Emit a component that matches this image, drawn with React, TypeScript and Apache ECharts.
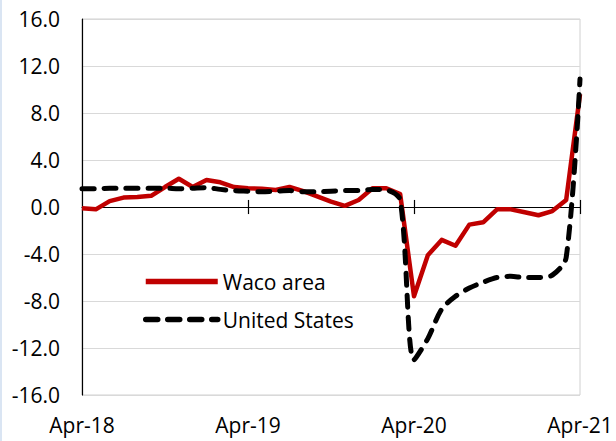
import React, { useEffect, useRef } from "react";
import * as echarts from "echarts";

const months = [
  "Apr-18", "May-18", "Jun-18", "Jul-18", "Aug-18", "Sep-18", "Oct-18", "Nov-18", "Dec-18",
  "Jan-19", "Feb-19", "Mar-19", "Apr-19", "May-19", "Jun-19", "Jul-19", "Aug-19", "Sep-19",
  "Oct-19", "Nov-19", "Dec-19", "Jan-20", "Feb-20", "Mar-20", "Apr-20", "May-20", "Jun-20",
  "Jul-20", "Aug-20", "Sep-20", "Oct-20", "Nov-20", "Dec-20", "Jan-21", "Feb-21", "Mar-21",
  "Apr-21",
];

const tickMonths = ["Apr-19", "Apr-20", "Apr-21"];

const wacoArea = [
  -0.1, -0.2, 0.5, 0.8, 0.85, 0.95, 1.7, 2.4, 1.7, 2.3, 2.1, 1.7,
  1.6, 1.55, 1.45, 1.7, 1.35, 0.9, 0.45, 0.1, 0.6, 1.6, 1.6, 1.1,
  -7.6, -4.1, -2.8, -3.3, -1.5, -1.3, -0.2, -0.2, -0.45, -0.7, -0.35, 0.6,
  9.6,
];

const unitedStates = [
  1.55, 1.55, 1.6, 1.6, 1.6, 1.6, 1.6, 1.55, 1.6, 1.65, 1.5, 1.4,
  1.35, 1.3, 1.35, 1.4, 1.3, 1.3, 1.35, 1.4, 1.4, 1.5, 1.45, 0.6,
  -13.0, -11.2, -8.7, -7.6, -6.9, -6.4, -6.0, -5.9, -6.0, -6.0, -5.8, -4.3,
  10.9,
];

const yTicks = { min: -16, max: 16, interval: 4 };
const tickHalf = 0.6;

const FONT = "'Open Sans', sans-serif";
const FS = 21;

export default function App() {
  const ref = useRef<HTMLDivElement>(null);

  useEffect(() => {
    document.body.style.margin = "0";
    if (!ref.current) return;
    const chart = echarts.init(ref.current, undefined, { renderer: "svg" });
    chart.setOption({
      animation: false,
      backgroundColor: "#fff",
      graphic: [
        {
          type: "rect",
          left: 0,
          top: 0,
          shape: { width: 2, height: 441 },
          style: { fill: "#DAE5F3" },
        },
      ],
      grid: {
        left: 82,
        right: 36,
        top: 19,
        bottom: 46,
        show: true,
        borderColor: "#D0D0D0",
        borderWidth: 1,
      },
      legend: {
        orient: "vertical",
        left: 138,
        top: 266,
        itemWidth: 72,
        itemHeight: 14,
        itemGap: 17,
        itemStyle: { opacity: 0 },
        lineStyle: { width: 5.5 },
        textStyle: { fontSize: FS, fontFamily: FONT, color: "#000", lineHeight: 21 },
        data: ["Waco area", "United States"],
      },
      xAxis: [
        {
          type: "category",
          data: months,
          boundaryGap: false,
          position: "bottom",
          axisLine: { show: false, onZero: false },
          axisTick: { show: false },
          axisLabel: {
            interval: 11,
            fontSize: FS,
            fontFamily: FONT,
            color: "#000",
            margin: 19,
          },
          splitLine: { show: false },
        },
        {
          type: "category",
          data: months,
          boundaryGap: false,
          position: "bottom",
          axisLine: { show: true, onZero: true, lineStyle: { color: "#000", width: 1.2 } },
          axisTick: { show: false },
          axisLabel: { show: false },
          splitLine: { show: false },
        },
      ],
      yAxis: {
        type: "value",
        min: yTicks.min,
        max: yTicks.max,
        interval: yTicks.interval,
        axisLine: { show: true, onZero: false, lineStyle: { color: "#000", width: 1.2 } },
        axisTick: { show: false },
        axisLabel: {
          formatter: (v: number) => v.toFixed(1),
          fontSize: FS,
          fontFamily: FONT,
          color: "#000",
          margin: 22,
        },
        splitLine: { lineStyle: { color: "#D9D9D9", width: 1 } },
      },
      series: [
        {
          name: "Waco area",
          type: "line",
          data: wacoArea,
          xAxisIndex: 0,
          symbol: "none",
          itemStyle: { color: "#C00000" },
          lineStyle: { color: "#C00000", width: 4.5, join: "round" },
          markLine: {
            silent: true,
            symbol: "none",
            label: { show: false },
            lineStyle: { color: "#000", width: 1.2, type: "solid" },
            z: 1,
            data: tickMonths.map((m) => [
              { coord: [m, -tickHalf] },
              { coord: [m, tickHalf] },
            ]),
          },
        },
        {
          name: "United States",
          type: "line",
          data: unitedStates,
          xAxisIndex: 0,
          symbol: "none",
          smooth: 0.3,
          itemStyle: { color: "#000" },
          lineStyle: { color: "#000", width: 5, type: [12, 10], cap: "round", join: "round" },
        },
      ],
    });
    return () => chart.dispose();
  }, []);

  return <div ref={ref} style={{ width: 616, height: 441 }} />;
}
